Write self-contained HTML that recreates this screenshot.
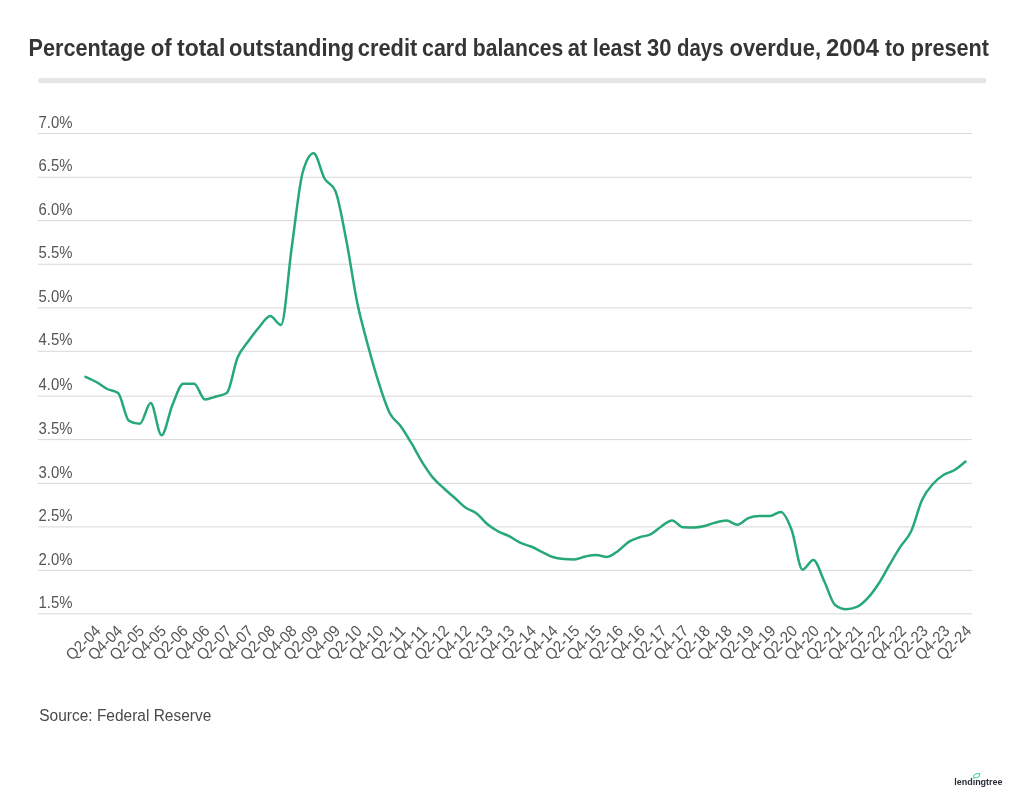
<!DOCTYPE html>
<html><head><meta charset="utf-8"><title>Chart</title>
<style>
html,body{margin:0;padding:0;background:#fff;}
body{width:1024px;height:799px;overflow:hidden;font-family:"Liberation Sans",sans-serif;}
svg{display:block;font-family:"Liberation Sans",sans-serif;will-change:transform;opacity:0.999;}
.title{font-weight:bold;font-size:23.4px;fill:#353535;}
.yl text{font-size:16px;fill:#555;}
.xl text{font-size:16px;fill:#555;}
.src{font-size:15.6px;fill:#4a4a4a;}
</style></head><body>
<svg width="1024" height="799" viewBox="0 0 1024 799">
<rect width="1024" height="799" fill="#fff"/>
<text class="title" x="28.50" y="56.3" textLength="116.75" lengthAdjust="spacingAndGlyphs">Percentage</text>
<text class="title" x="150.75" y="56.3" textLength="21.00" lengthAdjust="spacingAndGlyphs">of</text>
<text class="title" x="177.00" y="56.3" textLength="48.50" lengthAdjust="spacingAndGlyphs">total</text>
<text class="title" x="229.00" y="56.3" textLength="125.25" lengthAdjust="spacingAndGlyphs">outstanding</text>
<text class="title" x="357.75" y="56.3" textLength="59.50" lengthAdjust="spacingAndGlyphs">credit</text>
<text class="title" x="422.00" y="56.3" textLength="45.25" lengthAdjust="spacingAndGlyphs">card</text>
<text class="title" x="472.75" y="56.3" textLength="90.50" lengthAdjust="spacingAndGlyphs">balances</text>
<text class="title" x="567.75" y="56.3" textLength="19.50" lengthAdjust="spacingAndGlyphs">at</text>
<text class="title" x="592.75" y="56.3" textLength="48.75" lengthAdjust="spacingAndGlyphs">least</text>
<text class="title" x="647.00" y="56.3" textLength="24.50" lengthAdjust="spacingAndGlyphs">30</text>
<text class="title" x="677.00" y="56.3" textLength="46.50" lengthAdjust="spacingAndGlyphs">days</text>
<text class="title" x="729.50" y="56.3" textLength="91.50" lengthAdjust="spacingAndGlyphs">overdue,</text>
<text class="title" x="826.00" y="56.3" textLength="53.00" lengthAdjust="spacingAndGlyphs">2004</text>
<text class="title" x="885.00" y="56.3" textLength="20.00" lengthAdjust="spacingAndGlyphs">to</text>
<text class="title" x="910.75" y="56.3" textLength="78.25" lengthAdjust="spacingAndGlyphs">present</text>

<rect x="38.5" y="78.2" width="947.5" height="5" fill="#e5e5e5"/>
<g>
<rect x="38" y="133.00" width="934" height="1" fill="#d8d8d8"/>
<rect x="38" y="176.75" width="934" height="1" fill="#d8d8d8"/>
<rect x="38" y="220.10" width="934" height="1" fill="#d8d8d8"/>
<rect x="38" y="263.75" width="934" height="1" fill="#d8d8d8"/>
<rect x="38" y="307.40" width="934" height="1" fill="#d8d8d8"/>
<rect x="38" y="350.75" width="934" height="1" fill="#d8d8d8"/>
<rect x="38" y="395.70" width="934" height="1" fill="#d8d8d8"/>
<rect x="38" y="439.10" width="934" height="1" fill="#d8d8d8"/>
<rect x="38" y="482.90" width="934" height="1" fill="#d8d8d8"/>
<rect x="38" y="526.40" width="934" height="1" fill="#d8d8d8"/>
<rect x="38" y="569.90" width="934" height="1" fill="#d8d8d8"/>
<rect x="38" y="613.30" width="934" height="1" fill="#d8d8d8"/>
</g>
<g class="yl">
<text x="38.6" y="127.60" textLength="33.9" lengthAdjust="spacingAndGlyphs">7.0%</text>
<text x="38.6" y="171.35" textLength="33.9" lengthAdjust="spacingAndGlyphs">6.5%</text>
<text x="38.6" y="214.70" textLength="33.9" lengthAdjust="spacingAndGlyphs">6.0%</text>
<text x="38.6" y="258.35" textLength="33.9" lengthAdjust="spacingAndGlyphs">5.5%</text>
<text x="38.6" y="302.00" textLength="33.9" lengthAdjust="spacingAndGlyphs">5.0%</text>
<text x="38.6" y="345.35" textLength="33.9" lengthAdjust="spacingAndGlyphs">4.5%</text>
<text x="38.6" y="390.30" textLength="33.9" lengthAdjust="spacingAndGlyphs">4.0%</text>
<text x="38.6" y="433.70" textLength="33.9" lengthAdjust="spacingAndGlyphs">3.5%</text>
<text x="38.6" y="477.50" textLength="33.9" lengthAdjust="spacingAndGlyphs">3.0%</text>
<text x="38.6" y="521.00" textLength="33.9" lengthAdjust="spacingAndGlyphs">2.5%</text>
<text x="38.6" y="564.50" textLength="33.9" lengthAdjust="spacingAndGlyphs">2.0%</text>
<text x="38.6" y="607.90" textLength="33.9" lengthAdjust="spacingAndGlyphs">1.5%</text>
</g>
<path d="M85.50,376.80 C89.12,378.38 92.74,379.97 96.36,382.00 C99.99,384.03 103.61,387.17 107.23,389.00 C110.85,390.83 114.47,390.33 118.09,393.00 C121.71,395.67 125.33,418.80 128.96,420.80 C132.58,422.80 136.20,423.80 139.82,423.80 C143.44,423.80 147.06,403.00 150.68,403.00 C154.31,403.00 157.93,435.30 161.55,435.30 C165.17,435.30 168.79,413.59 172.41,405.00 C176.03,396.41 179.65,383.75 183.28,383.75 C186.90,383.75 190.52,383.75 194.14,383.75 C197.76,383.75 201.38,399.50 205.00,399.50 C208.63,399.50 212.25,397.58 215.87,396.50 C219.49,395.42 223.11,395.33 226.73,393.00 C230.35,390.67 233.97,366.17 237.60,357.50 C241.22,348.83 244.84,346.08 248.46,341.00 C252.08,335.92 255.70,331.17 259.32,327.00 C262.95,322.83 266.57,316.00 270.19,316.00 C273.81,316.00 277.43,325.00 281.05,325.00 C284.67,325.00 288.29,271.50 291.92,246.00 C295.54,220.50 299.16,184.50 302.78,172.00 C306.40,159.50 310.02,153.25 313.64,153.25 C317.27,153.25 320.89,172.21 324.51,178.50 C328.13,184.79 331.75,182.67 335.37,191.00 C338.99,199.33 342.61,221.50 346.24,240.00 C349.86,258.50 353.48,284.42 357.10,302.00 C360.72,319.58 364.34,332.00 367.96,345.50 C371.59,359.00 375.21,371.75 378.83,383.00 C382.45,394.25 386.07,405.83 389.69,413.00 C393.31,420.17 396.93,420.97 400.56,426.00 C404.18,431.03 407.80,437.15 411.42,443.20 C415.04,449.25 418.66,456.52 422.28,462.30 C425.91,468.08 429.53,473.53 433.15,477.90 C436.77,482.27 440.39,485.15 444.01,488.50 C447.63,491.85 451.25,494.80 454.88,498.00 C458.50,501.20 462.12,505.13 465.74,507.70 C469.36,510.27 472.98,510.63 476.60,513.40 C480.23,516.17 483.85,521.28 487.47,524.30 C491.09,527.32 494.71,529.52 498.33,531.50 C501.95,533.48 505.57,534.33 509.20,536.20 C512.82,538.07 516.44,540.98 520.06,542.70 C523.68,544.42 527.30,544.98 530.92,546.50 C534.55,548.02 538.17,550.05 541.79,551.80 C545.41,553.55 549.03,555.80 552.65,557.00 C556.27,558.20 559.89,558.73 563.52,559.00 C567.14,559.27 570.76,559.40 574.38,559.40 C578.00,559.40 581.62,557.23 585.24,556.50 C588.87,555.77 592.49,555.00 596.11,555.00 C599.73,555.00 603.35,556.90 606.97,556.90 C610.59,556.90 614.21,553.70 617.84,551.20 C621.46,548.70 625.08,544.23 628.70,541.90 C632.32,539.57 635.94,538.45 639.56,537.20 C643.19,535.95 646.81,536.18 650.43,534.40 C654.05,532.62 657.67,528.83 661.29,526.50 C664.91,524.17 668.53,520.40 672.16,520.40 C675.78,520.40 679.40,527.17 683.02,527.30 C686.64,527.43 690.26,527.50 693.88,527.50 C697.51,527.50 701.13,526.83 704.75,526.00 C708.37,525.17 711.99,523.40 715.61,522.50 C719.23,521.60 722.85,520.60 726.48,520.60 C730.10,520.60 733.72,524.80 737.34,524.80 C740.96,524.80 744.58,519.57 748.20,518.10 C751.83,516.63 755.45,515.90 759.07,515.90 C762.69,515.90 766.31,516.00 769.93,516.00 C773.55,516.00 777.17,511.90 780.80,511.90 C784.42,511.90 788.04,520.37 791.66,530.00 C795.28,539.63 798.90,569.70 802.52,569.70 C806.15,569.70 809.77,560.00 813.39,560.00 C817.01,560.00 820.63,573.80 824.25,581.30 C827.87,588.80 831.49,602.20 835.12,605.00 C838.74,607.80 842.36,609.20 845.98,609.20 C849.60,609.20 853.22,608.43 856.84,606.90 C860.47,605.37 864.09,601.96 867.71,598.10 C871.33,594.24 874.95,589.27 878.57,583.75 C882.19,578.23 885.81,571.14 889.44,565.00 C893.06,558.86 896.68,552.53 900.30,546.90 C903.92,541.27 907.54,539.02 911.16,531.20 C914.79,523.38 918.41,507.87 922.03,500.00 C925.65,492.13 929.27,488.20 932.89,484.00 C936.51,479.80 940.13,477.13 943.76,474.80 C947.38,472.47 951.00,472.22 954.62,470.00 C958.24,467.78 961.86,464.64 965.48,461.50" fill="none" stroke="#26a877" stroke-width="2.5" stroke-linecap="round" stroke-linejoin="round"/>
<g class="xl">
<text transform="translate(101.70,631.90) rotate(-45)" text-anchor="end" textLength="41.5" lengthAdjust="spacingAndGlyphs">Q2-04</text>
<text transform="translate(123.47,631.90) rotate(-45)" text-anchor="end" textLength="41.5" lengthAdjust="spacingAndGlyphs">Q4-04</text>
<text transform="translate(145.24,631.90) rotate(-45)" text-anchor="end" textLength="41.5" lengthAdjust="spacingAndGlyphs">Q2-05</text>
<text transform="translate(167.01,631.90) rotate(-45)" text-anchor="end" textLength="41.5" lengthAdjust="spacingAndGlyphs">Q4-05</text>
<text transform="translate(188.78,631.90) rotate(-45)" text-anchor="end" textLength="41.5" lengthAdjust="spacingAndGlyphs">Q2-06</text>
<text transform="translate(210.54,631.90) rotate(-45)" text-anchor="end" textLength="41.5" lengthAdjust="spacingAndGlyphs">Q4-06</text>
<text transform="translate(232.31,631.90) rotate(-45)" text-anchor="end" textLength="41.5" lengthAdjust="spacingAndGlyphs">Q2-07</text>
<text transform="translate(254.08,631.90) rotate(-45)" text-anchor="end" textLength="41.5" lengthAdjust="spacingAndGlyphs">Q4-07</text>
<text transform="translate(275.85,631.90) rotate(-45)" text-anchor="end" textLength="41.5" lengthAdjust="spacingAndGlyphs">Q2-08</text>
<text transform="translate(297.62,631.90) rotate(-45)" text-anchor="end" textLength="41.5" lengthAdjust="spacingAndGlyphs">Q4-08</text>
<text transform="translate(319.39,631.90) rotate(-45)" text-anchor="end" textLength="41.5" lengthAdjust="spacingAndGlyphs">Q2-09</text>
<text transform="translate(341.16,631.90) rotate(-45)" text-anchor="end" textLength="41.5" lengthAdjust="spacingAndGlyphs">Q4-09</text>
<text transform="translate(362.93,631.90) rotate(-45)" text-anchor="end" textLength="41.5" lengthAdjust="spacingAndGlyphs">Q2-10</text>
<text transform="translate(384.69,631.90) rotate(-45)" text-anchor="end" textLength="41.5" lengthAdjust="spacingAndGlyphs">Q4-10</text>
<text transform="translate(406.46,631.90) rotate(-45)" text-anchor="end" textLength="41.5" lengthAdjust="spacingAndGlyphs">Q2-11</text>
<text transform="translate(428.23,631.90) rotate(-45)" text-anchor="end" textLength="41.5" lengthAdjust="spacingAndGlyphs">Q4-11</text>
<text transform="translate(450.00,631.90) rotate(-45)" text-anchor="end" textLength="41.5" lengthAdjust="spacingAndGlyphs">Q2-12</text>
<text transform="translate(471.77,631.90) rotate(-45)" text-anchor="end" textLength="41.5" lengthAdjust="spacingAndGlyphs">Q4-12</text>
<text transform="translate(493.54,631.90) rotate(-45)" text-anchor="end" textLength="41.5" lengthAdjust="spacingAndGlyphs">Q2-13</text>
<text transform="translate(515.31,631.90) rotate(-45)" text-anchor="end" textLength="41.5" lengthAdjust="spacingAndGlyphs">Q4-13</text>
<text transform="translate(537.08,631.90) rotate(-45)" text-anchor="end" textLength="41.5" lengthAdjust="spacingAndGlyphs">Q2-14</text>
<text transform="translate(558.84,631.90) rotate(-45)" text-anchor="end" textLength="41.5" lengthAdjust="spacingAndGlyphs">Q4-14</text>
<text transform="translate(580.61,631.90) rotate(-45)" text-anchor="end" textLength="41.5" lengthAdjust="spacingAndGlyphs">Q2-15</text>
<text transform="translate(602.38,631.90) rotate(-45)" text-anchor="end" textLength="41.5" lengthAdjust="spacingAndGlyphs">Q4-15</text>
<text transform="translate(624.15,631.90) rotate(-45)" text-anchor="end" textLength="41.5" lengthAdjust="spacingAndGlyphs">Q2-16</text>
<text transform="translate(645.92,631.90) rotate(-45)" text-anchor="end" textLength="41.5" lengthAdjust="spacingAndGlyphs">Q4-16</text>
<text transform="translate(667.69,631.90) rotate(-45)" text-anchor="end" textLength="41.5" lengthAdjust="spacingAndGlyphs">Q2-17</text>
<text transform="translate(689.46,631.90) rotate(-45)" text-anchor="end" textLength="41.5" lengthAdjust="spacingAndGlyphs">Q4-17</text>
<text transform="translate(711.23,631.90) rotate(-45)" text-anchor="end" textLength="41.5" lengthAdjust="spacingAndGlyphs">Q2-18</text>
<text transform="translate(732.99,631.90) rotate(-45)" text-anchor="end" textLength="41.5" lengthAdjust="spacingAndGlyphs">Q4-18</text>
<text transform="translate(754.76,631.90) rotate(-45)" text-anchor="end" textLength="41.5" lengthAdjust="spacingAndGlyphs">Q2-19</text>
<text transform="translate(776.53,631.90) rotate(-45)" text-anchor="end" textLength="41.5" lengthAdjust="spacingAndGlyphs">Q4-19</text>
<text transform="translate(798.30,631.90) rotate(-45)" text-anchor="end" textLength="41.5" lengthAdjust="spacingAndGlyphs">Q2-20</text>
<text transform="translate(820.07,631.90) rotate(-45)" text-anchor="end" textLength="41.5" lengthAdjust="spacingAndGlyphs">Q4-20</text>
<text transform="translate(841.84,631.90) rotate(-45)" text-anchor="end" textLength="41.5" lengthAdjust="spacingAndGlyphs">Q2-21</text>
<text transform="translate(863.61,631.90) rotate(-45)" text-anchor="end" textLength="41.5" lengthAdjust="spacingAndGlyphs">Q4-21</text>
<text transform="translate(885.38,631.90) rotate(-45)" text-anchor="end" textLength="41.5" lengthAdjust="spacingAndGlyphs">Q2-22</text>
<text transform="translate(907.14,631.90) rotate(-45)" text-anchor="end" textLength="41.5" lengthAdjust="spacingAndGlyphs">Q4-22</text>
<text transform="translate(928.91,631.90) rotate(-45)" text-anchor="end" textLength="41.5" lengthAdjust="spacingAndGlyphs">Q2-23</text>
<text transform="translate(950.68,631.90) rotate(-45)" text-anchor="end" textLength="41.5" lengthAdjust="spacingAndGlyphs">Q4-23</text>
<text transform="translate(972.45,631.90) rotate(-45)" text-anchor="end" textLength="41.5" lengthAdjust="spacingAndGlyphs">Q2-24</text>
</g>
<text class="src" x="39.3" y="720.8" textLength="172" lengthAdjust="spacingAndGlyphs">Source: Federal Reserve</text>
<g id="logo">
<text x="954.2" y="785.0" font-size="9.2" font-weight="bold" fill="#2a2d3b" textLength="48.4" lengthAdjust="spacingAndGlyphs">lendıngtree</text>
<path d="M973.6,777.9 C973.3,774.9 975.0,773.5 979.8,773.5 C980.0,776.5 978.3,777.9 973.6,777.9 Z" fill="none" stroke="#4fd2a6" stroke-width="1.1" stroke-linejoin="round"/>
</g>
</svg>
</body></html>
